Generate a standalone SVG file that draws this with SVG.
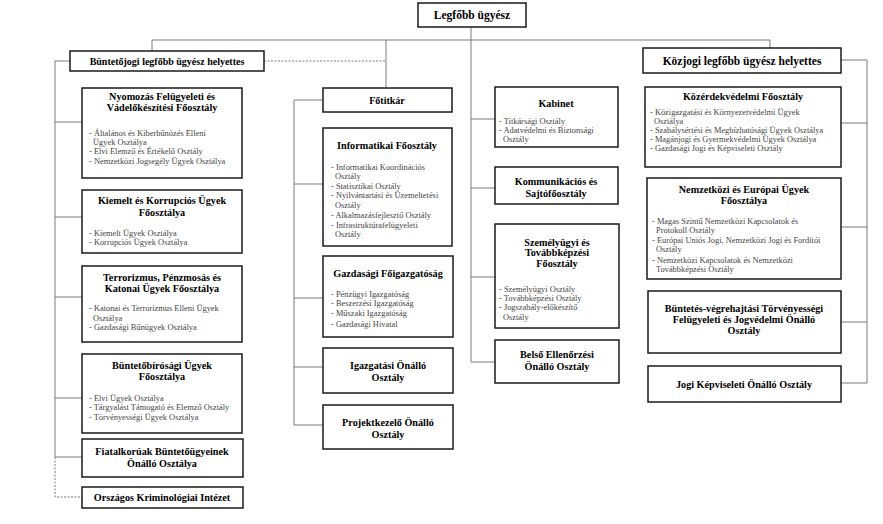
<svg xmlns="http://www.w3.org/2000/svg" width="883" height="524" viewBox="0 0 883 524">
<style>
.b{fill:#fff;stroke:#1a1a1a;stroke-width:1.5}
.t{font-family:"Liberation Serif","Times New Roman",serif;font-weight:bold;font-size:10.2px;fill:#000;text-anchor:middle}
.h{font-family:"Liberation Serif","Times New Roman",serif;font-weight:bold;font-size:10px;fill:#000;text-anchor:middle}
.i{font-family:"Liberation Serif","Times New Roman",serif;font-size:8.4px;fill:#444}
.c{fill:none;stroke:#7a7a7a;stroke-width:1}
.d{fill:none;stroke:#7a7a7a;stroke-width:1;stroke-dasharray:2,1.5}
</style>
<rect width="883" height="524" fill="#fff"/>
<g id="connectors">
<path class="c" d="M471 27V362M152 51V40H770V48M386 40V88"/>
<path class="d" d="M264 61H386"/>
<path class="c" d="M70 61H55V457M55 122H82M55 217H82M55 297H82M55 398H82M55 457H82"/>
<path class="d" d="M55 457V497H82"/>
<path class="c" d="M323 100H294V425H323M294 184H323M294 298H323M294 367H323"/>
<path class="c" d="M471 119H495M471 188H495M471 277H495M471 362H495"/>
<path class="c" d="M841 60H867V383H841M841 123H867M841 227H867M841 322H867"/>
</g>
<g id="legfobb"><rect class="b" x="418" y="3" width="108" height="24"/><text class="h" x="472" y="19" style="font-size:11.5px">Legfőbb ügyész</text></g>
<g id="buntetojogi"><rect class="b" x="70" y="51" width="194" height="20"/><text class="h" x="167" y="65">Büntetőjogi legfőbb ügyész helyettes</text></g>
<g id="kozjogi"><rect class="b" x="643" y="48" width="198" height="25"/><text class="h" x="742" y="64.5" style="font-size:11.5px">Közjogi legfőbb ügyész helyettes</text></g>
<g id="nyomozas"><rect class="b" x="82" y="88" width="160" height="90"/>
<text class="t" x="162" y="100">Nyomozás Felügyeleti és</text><text class="t" x="162" y="111">Vádelőkészítési Főosztály</text>
<text class="i" x="89" y="136">- Általános és Kiberbűnözés Elleni</text><text class="i" x="93" y="145">Ügyek Osztálya</text><text class="i" x="89" y="154">- Elvi Elemző és Értékelő Osztály</text><text class="i" x="89" y="164">- Nemzetközi Jogsegély Ügyek Osztálya</text></g>
<g id="kiemelt"><rect class="b" x="82" y="190" width="160" height="63"/>
<text class="t" x="162" y="204">Kiemelt és Korrupciós Ügyek</text><text class="t" x="162" y="216">Főosztálya</text>
<text class="i" x="89" y="236">- Kiemelt Ügyek Osztálya</text><text class="i" x="89" y="245">- Korrupciós Ügyek Osztálya</text></g>
<g id="terrorizmus"><rect class="b" x="82" y="266" width="160" height="76"/>
<text class="t" x="162" y="281">Terrorizmus, Pénzmosás és</text><text class="t" x="162" y="292">Katonai Ügyek Főosztálya</text>
<text class="i" x="89" y="311">- Katonai és Terrorizmus Elleni Ügyek</text><text class="i" x="93" y="321">Osztálya</text><text class="i" x="89" y="330">- Gazdasági Bűnügyek Osztálya</text></g>
<g id="buntetobirosagi"><rect class="b" x="82" y="354" width="160" height="79"/>
<text class="t" x="162" y="369">Büntetőbírósági Ügyek</text><text class="t" x="162" y="380">Főosztálya</text>
<text class="i" x="89" y="401">- Elvi Ügyek Osztálya</text><text class="i" x="89" y="410">- Tárgyalást Támogató és Elemző Osztály</text><text class="i" x="89" y="420">- Törvényességi Ügyek Osztálya</text></g>
<g id="fiatalkoruak"><rect class="b" x="82" y="439" width="161" height="38"/>
<text class="t" x="162" y="455">Fiatalkorúak Büntetőügyeinek</text><text class="t" x="162" y="467">Önálló Osztálya</text></g>
<g id="orszagos"><rect class="b" x="82" y="487" width="161" height="21"/><text class="t" x="162" y="501">Országos Kriminológiai Intézet</text></g>
<g id="fotitkar"><rect class="b" x="323" y="88" width="129" height="24"/><text class="h" x="387" y="104">Főtitkár</text></g>
<g id="informatikai"><rect class="b" x="323" y="128" width="129" height="118"/>
<text class="t" x="387" y="149">Informatikai Főosztály</text>
<text class="i" x="331" y="170">- Informatikai Koordinációs</text><text class="i" x="335" y="179">Osztály</text><text class="i" x="331" y="189">- Statisztikai Osztály</text><text class="i" x="331" y="198">- Nyilvántartási és Üzemeltetési</text><text class="i" x="335" y="208">Osztály</text><text class="i" x="331" y="218">- Alkalmazásfejlesztő Osztály</text><text class="i" x="331" y="228">- Infrastruktúrafelügyeleti</text><text class="i" x="335" y="237">Osztály</text></g>
<g id="gazdasagi"><rect class="b" x="323" y="256" width="130" height="81"/>
<text class="t" x="388" y="277">Gazdasági Főigazgatóság</text>
<text class="i" x="331" y="297">- Pénzügyi Igazgatóság</text><text class="i" x="331" y="306">- Beszerzési Igazgatóság</text><text class="i" x="331" y="316">- Műszaki Igazgatóság</text><text class="i" x="331" y="327">- Gazdasági Hivatal</text></g>
<g id="igazgatasi"><rect class="b" x="323" y="348" width="130" height="45"/>
<text class="t" x="388" y="369">Igazgatási Önálló</text><text class="t" x="388" y="381">Osztály</text></g>
<g id="projektkezelo"><rect class="b" x="323" y="405" width="130" height="44"/>
<text class="t" x="388" y="426">Projektkezelő Önálló</text><text class="t" x="388" y="438">Osztály</text></g>
<g id="kabinet"><rect class="b" x="495" y="87" width="123" height="60"/>
<text class="t" x="556" y="107">Kabinet</text>
<text class="i" x="499" y="124">- Titkársági Osztály</text><text class="i" x="499" y="133">- Adatvédelmi és Biztonsági</text><text class="i" x="503" y="142">Osztály</text></g>
<g id="kommunikacios"><rect class="b" x="495" y="167" width="123" height="37"/>
<text class="t" x="556" y="185">Kommunikációs és</text><text class="t" x="556" y="197">Sajtófőosztály</text></g>
<g id="szemelyugyi"><rect class="b" x="495" y="224" width="124" height="104"/>
<text class="t" x="557" y="246">Személyügyi és</text><text class="t" x="557" y="256">Továbbképzési</text><text class="t" x="557" y="267">Főosztály</text>
<text class="i" x="499" y="292">- Személyügyi Osztály</text><text class="i" x="499" y="301">- Továbbképzési Osztály</text><text class="i" x="499" y="310">- Jogszabály-előkészítő</text><text class="i" x="503" y="320">Osztály</text></g>
<g id="belso"><rect class="b" x="495" y="340" width="124" height="43"/>
<text class="t" x="557" y="358">Belső Ellenőrzési</text><text class="t" x="557" y="370">Önálló Osztály</text></g>
<g id="kozerdekvedelmi"><rect class="b" x="645" y="87" width="196" height="80"/>
<text class="t" x="743" y="100">Közérdekvédelmi Főosztály</text>
<text class="i" x="650" y="115">- Közigazgatási és Környezetvédelmi Ügyek</text><text class="i" x="654" y="124">Osztálya</text><text class="i" x="650" y="133">- Szabálysértési és Megbízhatósági Ügyek Osztálya</text><text class="i" x="650" y="142">- Magánjogi és Gyermekvédelmi Ügyek Osztálya</text><text class="i" x="650" y="151">- Gazdasági Jogi és Képviseleti Osztály</text></g>
<g id="nemzetkozi"><rect class="b" x="647" y="178" width="194" height="101"/>
<text class="t" x="744" y="193">Nemzetközi és Európai Ügyek</text><text class="t" x="744" y="204">Főosztálya</text>
<text class="i" x="652" y="224">- Magas Szintű Nemzetközi Kapcsolatok és</text><text class="i" x="656" y="233">Protokoll Osztály</text><text class="i" x="652" y="243">- Európai Uniós Jogi, Nemzetközi Jogi és Fordítói</text><text class="i" x="656" y="252">Osztály</text><text class="i" x="652" y="263">- Nemzetközi Kapcsolatok és Nemzetközi</text><text class="i" x="656" y="272">Továbbképzési Osztály</text></g>
<g id="buntetesvegrehajtasi"><rect class="b" x="648" y="291" width="193" height="62"/>
<text class="t" x="744" y="312">Büntetés-végrehajtási Törvényességi</text><text class="t" x="744" y="323">Felügyeleti és Jogvédelmi Önálló</text><text class="t" x="744" y="334">Osztály</text></g>
<g id="jogikepviseleti"><rect class="b" x="648" y="366" width="193" height="36"/>
<text class="t" x="744" y="388">Jogi Képviseleti Önálló Osztály</text></g>
</svg>
